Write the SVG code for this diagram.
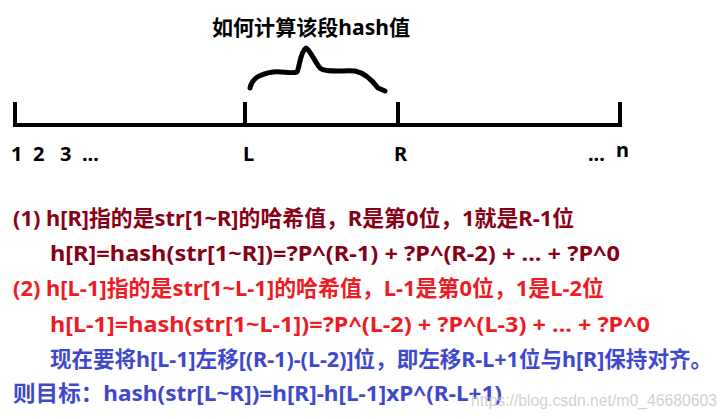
<svg xmlns="http://www.w3.org/2000/svg" width="724" height="419" viewBox="0 0 724 419">
<style>
  text { font-family: "Noto Sans", "Noto Sans CJK SC", sans-serif; font-weight: bold; }
  .t { font-size: 22px; }
  .dr { fill: #880015; }
  .rd { fill: #ED1C24; }
  .bl { fill: #3F48CC; }
  .lbl { font-size: 20px; fill: #000; }
  .ink { stroke: #000; stroke-width: 4; fill: none; stroke-linecap: square; }
  .wm { font-family: "Liberation Sans", Arial, sans-serif; font-weight: normal; font-size: 16px; fill: #c8c8c8; fill-opacity: 0.85; }
</style>
<rect width="724" height="419" fill="#fff"/>
<g id="title">
  <text x="212" y="35" font-size="21" fill="#000" textLength="198" lengthAdjust="spacingAndGlyphs">如何计算该段hash值</text>
</g>
<g id="brace">
  <path d="M250,88 C252,78 260,74 273,72 C283,71 290,74 297,72 C300,66 300,52 306,48 C310,50 315,62 320,68 C325,73 345,70 355,71 C365,73 372,80 378,88 L385,91" stroke="#000" stroke-width="5" fill="none" stroke-linecap="round" stroke-linejoin="round"/>
</g>
<g id="axis">
  <path class="ink" d="M15,125 H620 M15,104 V125 M245,104 V125 M398,104 V125 M620,104 V125"/>
</g>
<g id="labels">
  <text class="lbl" x="11" y="161">1</text>
  <text class="lbl" x="33" y="161">2</text>
  <text class="lbl" x="60" y="161">3</text>
  <text class="lbl" x="82" y="161">...</text>
  <text class="lbl" x="243" y="161">L</text>
  <text class="lbl" x="394" y="161">R</text>
  <text class="lbl" x="588" y="161">...</text>
  <text class="lbl" x="616" y="157">n</text>
</g>
<g id="explanation">
  <text class="t dr" x="13" y="226" textLength="561" lengthAdjust="spacingAndGlyphs">(1) h[R]指的是str[1~R]的哈希值，R是第0位，1就是R-1位</text>
  <text class="t dr" x="50" y="261" textLength="570" lengthAdjust="spacingAndGlyphs">h[R]=hash(str[1~R])=?P^(R-1) + ?P^(R-2) + ... + ?P^0</text>
  <text class="t rd" x="13" y="296" textLength="591" lengthAdjust="spacingAndGlyphs">(2) h[L-1]指的是str[1~L-1]的哈希值，L-1是第0位，1是L-2位</text>
  <text class="t rd" x="50" y="332" textLength="600" lengthAdjust="spacingAndGlyphs">h[L-1]=hash(str[1~L-1])=?P^(L-2) + ?P^(L-3) + ... + ?P^0</text>
  <text class="bl" x="50" y="367" font-size="21.4" textLength="662" lengthAdjust="spacingAndGlyphs">现在要将h[L-1]左移[(R-1)-(L-2)]位，即左移R-L+1位与h[R]保持对齐。</text>
  <text class="t bl" x="13" y="401" textLength="489" lengthAdjust="spacingAndGlyphs">则目标：hash(str[L~R])=h[R]-h[L-1]xP^(R-L+1)</text>
</g>
<g id="watermark">
  <text class="wm" x="471" y="406" textLength="246" lengthAdjust="spacingAndGlyphs">https://blog.csdn.net/m0_46680603</text>
</g>
</svg>
